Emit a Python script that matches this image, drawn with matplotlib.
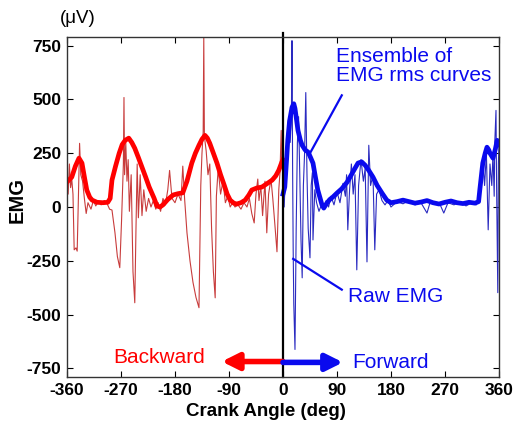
import matplotlib
matplotlib.use("Agg")
import matplotlib.pyplot as plt

plt.rcParams["font.family"] = ["Liberation Sans", "DejaVu Sans"]
plt.rcParams["axes.unicode_minus"] = False

# ensemble rms curves (deg, uV)
rms_back_x = [-360, -352, -346, -340, -335, -331, -327, -322, -318, -310, -300, -292, -288, -285,
              -279, -273, -268, -263, -257, -252, -247, -241, -235, -229, -223, -215, -210, -205,
              -200, -192, -183, -175, -167, -160, -152, -146, -140, -135, -130, -126, -122, -116,
              -110, -104, -98, -93, -88, -82, -77, -70, -63, -57, -52, -44, -35, -27, -18, -12,
              -7, -2, 0]
rms_back_y = [116, 139, 190, 227, 204, 140, 79, 45, 32, 22, 20, 22, 40, 125,
              190, 250, 290, 310, 320, 300, 273, 230, 185, 140, 93, 42, 5, 0,
              10, 35, 56, 62, 66, 120, 204, 250, 287, 315, 333, 320, 296, 250,
              204, 150, 102, 60, 32, 18, 14, 20, 32, 55, 79, 88, 93, 108, 125, 145,
              171, 208, 220]

rms_fwd_x = [0, 3, 6, 8, 11, 15, 18, 20, 25, 29, 32, 37, 42, 46, 50, 54, 58, 62, 65, 68, 73, 78,
             83, 90, 98, 107, 115, 120, 125, 131, 137, 143, 150, 157, 165, 173, 180, 190, 200,
             210, 220, 230, 240, 250, 260, 270, 280, 290, 300, 310, 320, 326, 328, 333, 337,
             340, 343, 345, 350, 354, 357, 360]
rms_fwd_y = [60, 93, 220, 310, 400, 463, 480, 458, 356, 310, 287, 265, 255, 230, 204, 140, 79, 40,
             10, -5, 18, 35, 46, 65, 85, 116, 155, 180, 204, 210, 194, 170, 139, 100, 65, 32,
             20, 25, 32, 25, 18, 23, 30, 20, 14, 22, 28, 20, 16, 22, 18, 25, 79, 204, 250,
             278, 265, 250, 227, 270, 310, 290]

# raw EMG traces
raw_back_x = [-360, -358, -356, -354, -352, -350, -348, -345, -343, -341, -339, -337, -334, -331,
              -328, -325, -320, -316, -312, -308, -303, -298, -293, -289, -285, -280, -276, -272,
              -269, -266, -265, -264, -262, -260, -258, -256, -253, -250, -247, -245, -243, -241,
              -238, -235, -232, -228, -224, -220, -216, -212, -208, -204, -200, -196, -192, -189,
              -185, -180, -175, -170, -167, -164, -160, -155, -150, -145, -140, -137, -135, -133,
              -132, -131, -128, -125, -122, -119, -116, -113, -111, -108, -104, -100, -96, -92,
              -88, -84, -80, -75, -70, -65, -60, -56, -52, -48, -45, -42, -40, -37, -34, -30,
              -27, -24, -20, -17, -13, -10, -7, -5, -3, -2, -1, 0]
raw_back_y = [150, 60, 200, 90, 130, 60, -199, -190, -205, 40, 296, 150, 120, 40,
              -30, 20, -10, 30, 5, 25, 10, 30, 15, -10, -14, -120, -230, -282,
              -60, 200, 509, 150, 300, 120, 220, -20, 150, -300, -445, -100, 200, -50,
              150, -40, 80, -20, 40, 0, 30, -10, 20, -20, 40, 10, 80, 170,
              40, 20, 60, 30, 190, 40, -120, -250, -350, -420, -468, 100, 250, 350,
              790, 330, 260, 150, 200, -100, -300, -422, 50, 180, 60, 120, 20, 50,
              0, 20, 0, 10, -10, 20, 0, 40, -30, -74, 60, 130, 30, 100, -40, 120,
              -120, 60, 130, 40, -100, -208, 80, 160, 356, 200, 280, 200]

raw_fwd_x = [0, 2, 4, 6, 8, 10, 12, 14, 15, 16, 17, 18, 20, 22, 24, 26, 28, 30, 32, 34, 36, 38,
             40, 42, 45, 47, 49, 50, 53, 56, 60, 64, 68, 72, 76, 80, 85, 90, 95, 100, 104, 106,
             108, 111, 114, 117, 120, 123, 126, 130, 134, 137, 140, 143, 146, 150, 153, 156,
             160, 165, 170, 175, 180, 190, 200, 210, 220, 230, 240, 245, 255, 262, 268, 275,
             285, 295, 305, 315, 322, 327, 330, 333, 336, 339, 342, 345, 348, 350, 352, 353,
             355, 356, 358, 359, 360]
raw_fwd_y = [100, 0, 150, 280, 380, 420, 300, 420, 773, 200, -200, -450, -662, -100, 300, 420,
             150, -150, -329, 100, 250, 532, 150, -100, -236, 100, 160, -153, 80, 20, -20, 10,
             -10, 30, 0, 50, 10, 70, 20, 110, 50, 150, -106, 80, 200, 60, 150, -292, 100, 220,
             120, 180, -255, 287, 100, 150, -199, 60, 80, 30, 10, 30, 0, 25, 15, 30, 10, 20,
             -28, 20, 15, 10, -28, 20, 10, 25, 5, 20, 10, 40, 150, 220, 100, 250, -106, 200,
             100, 250, 50, 300, 449, 100, -398, 200, 300]

xticks = [-360, -270, -180, -90, 0, 90, 180, 270, 360]
yticks = [-750, -500, -250, 0, 250, 500, 750]


def main():
    fig = plt.figure(figsize=(5.18, 4.25), dpi=100)
    ax = fig.add_axes([0.1293, 0.1129, 0.8340, 0.8000])

    ax.plot(raw_back_x, raw_back_y, color="#c83c3c", lw=0.8)
    ax.plot(raw_fwd_x, raw_fwd_y, color="#2a2ac0", lw=0.8)
    ax.plot(rms_back_x, rms_back_y, color="#ff0000", lw=3.4)
    ax.plot(rms_fwd_x, rms_fwd_y, color="#0a0aee", lw=3.4)

    ax.axvline(0, ymin=0, ymax=1.012, color="black", lw=1.6, clip_on=False)

    ax.set_xlim(-360, 360)
    ax.set_ylim(-790, 790)
    ax.set_xticks(xticks)
    ax.set_yticks(yticks)
    ax.tick_params(direction="in", length=4, top=True, right=True, labelsize=12.5, pad=4)
    for lab in ax.get_xticklabels() + ax.get_yticklabels():
        lab.set_fontweight("bold")
    for sp in ax.spines.values():
        sp.set_color("#333333")
        sp.set_linewidth(1.0)

    ax.set_xlabel("Crank Angle (deg)", fontsize=13.5, fontweight="bold")
    ax.xaxis.set_label_coords(0.46, -0.076)
    ax.set_ylabel("EMG", fontsize=14.5, fontweight="bold")
    ax.yaxis.set_label_coords(-0.093, 0.52)
    fig.text(0.150, 0.957, "(\u03bcV)", fontsize=13.5, ha="center", va="center")

    # direction arrows
    ax.annotate("", xy=(-102, -718), xytext=(0, -718),
                arrowprops=dict(arrowstyle="-|>,head_length=1.0,head_width=0.5",
                                color="#ff0000", lw=4, shrinkA=0, shrinkB=0))
    ax.annotate("", xy=(100, -722), xytext=(0, -722),
                arrowprops=dict(arrowstyle="-|>,head_length=1.0,head_width=0.5",
                                color="#0a0aee", lw=4, shrinkA=0, shrinkB=0))
    ax.text(-207, -699, "Backward", color="#ff0000", fontsize=15, ha="center", va="center")
    ax.text(180, -722, "Forward", color="#0a0aee", fontsize=15, ha="center", va="center")

    # labels with leader lines
    ax.text(88, 655, "Ensemble of\nEMG rms curves", color="#0a0aee", fontsize=15,
            ha="left", va="center", linespacing=1.05)
    ax.plot([98, 45], [519, 250], color="#0a0aee", lw=1.6)
    ax.text(188, -417, "Raw EMG", color="#0a0aee", fontsize=15, ha="center", va="center")
    ax.plot([17, 98], [-241, -384], color="#0a0aee", lw=1.6)

    fig.savefig("out.png", dpi=100)


if __name__ == "__main__":
    main()
